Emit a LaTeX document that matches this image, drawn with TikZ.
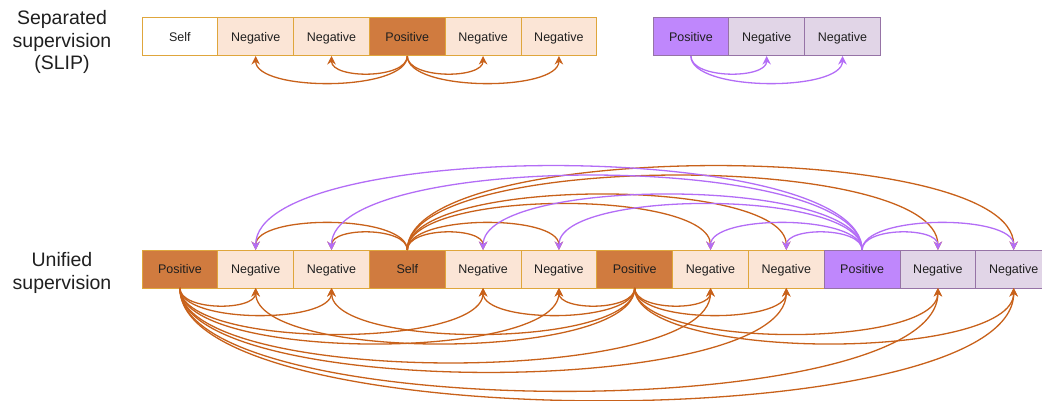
\documentclass[tikz,border=0pt]{standalone}
\usepackage{fontspec}
\setmainfont{Liberation Sans}
\usetikzlibrary{arrows.meta, positioning}

\definecolor{cellgold}{HTML}{DFA63C}
\definecolor{negfill}{HTML}{FBE5D6}
\definecolor{posfill}{HTML}{D07B3F}
\definecolor{vposfill}{HTML}{BF87FC}
\definecolor{vnegfill}{HTML}{E1D5E7}
\definecolor{vline}{HTML}{9673A6}
\definecolor{arcorange}{HTML}{C8611A}
\definecolor{arcviolet}{HTML}{B36DF6}

\begin{document}
\begin{tikzpicture}[
    x=1pt, y=1pt,
    node distance=0pt,
    cell/.style={
        rectangle, draw=cellgold, line width=1pt, fill=white,
        inner sep=0pt, outer sep=0pt, text height=8.9pt, text depth=0pt,
        minimum width=75.8pt, minimum height=38pt,
        font=\fontsize{12.5}{15}\selectfont, text=black!88
    },
    negcell/.style={cell, fill=negfill},
    poscell/.style={cell, fill=posfill},
    vposcell/.style={cell, draw=vline, fill=vposfill},
    vnegcell/.style={cell, draw=vline, fill=vnegfill},
    loopline/.style={line width=1.3pt, -{Stealth[length=8.5pt, width=8.5pt, inset=2.8pt]}},
    title/.style={align=center, font=\fontsize{19.5}{22.5}\selectfont, text=black!88}
]
    \useasboundingbox (0,0) rectangle (1042,400);
    % Labels
    \node (septitle) [title] at (62,358) {Separated\\supervision\\(SLIP)};
    \node (unititle) [title] at (62,127) {Unified\\supervision};
    % Nodes: separated
    \node (sep1) [cell] at (179.9,363) {Self};
    \node (sep2) [negcell, right=of sep1] {Negative};
    \node (sep3) [negcell, right=of sep2] {Negative};
    \node (sep4) [poscell, right=of sep3] {Positive};
    \node (sep5) [negcell, right=of sep4] {Negative};
    \node (sep6) [negcell, right=of sep5] {Negative};
    \node (sepv1) [vposcell] at (690.9,363) {Positive};
    \node (sepv2) [vnegcell, right=of sepv1] {Negative};
    \node (sepv3) [vnegcell, right=of sepv2] {Negative};
    % Nodes: unified
    \node (uni1) [poscell] at (179.9,131) {Positive};
    \node (uni2) [negcell, right=of uni1] {Negative};
    \node (uni3) [negcell, right=of uni2] {Negative};
    \node (uni4) [poscell, right=of uni3] {Self};
    \node (uni5) [negcell, right=of uni4] {Negative};
    \node (uni6) [negcell, right=of uni5] {Negative};
    \node (uni7) [poscell, right=of uni6] {Positive};
    \node (uni8) [negcell, right=of uni7] {Negative};
    \node (uni9) [negcell, right=of uni8] {Negative};
    \node (uni10) [vposcell, right=of uni9] {Positive};
    \node (uni11) [vnegcell, right=of uni10] {Negative};
    \node (uni12) [vnegcell, right=of uni11] {Negative};
    % Connections: separated
    \foreach \t in {2,3,5,6} {
        \pgfmathsetmacro\hh{10.67+12.63*abs(\t-4)}
        \draw [loopline, arcorange] (sep4.south) .. controls +(0,-\hh) and +(0,-\hh) .. (sep\t.south);
    }
    \foreach \t in {2,3} {
        \pgfmathsetmacro\hh{10.67+12.63*(\t-1)}
        \draw [loopline, arcviolet] (sepv1.south) .. controls +(0,-\hh) and +(0,-\hh) .. (sepv\t.south);
    }
    % Connections: unified
    \foreach \t in {2,3,5,6,8,9,11,12} {
        \pgfmathsetmacro\ha{10.67+12.63*abs(\t-1)}
        \pgfmathsetmacro\hb{10.67+12.63*abs(\t-7)}
        \pgfmathsetmacro\hc{10.67+12.63*abs(\t-4)}
        \draw [loopline, arcorange] (uni1.south) .. controls +(0,-\ha) and +(0,-\ha) .. (uni\t.south);
        \draw [loopline, arcorange] (uni7.south) .. controls +(0,-\hb) and +(0,-\hb) .. (uni\t.south);
        \draw [loopline, arcorange] (uni4.north) .. controls +(0,\hc) and +(0,\hc) .. (uni\t.north);
    }
    \foreach \t in {2,3,5,6,8,9,11,12} {
        \pgfmathsetmacro\hd{10.67+12.63*abs(\t-10)}
        \draw [loopline, arcviolet] (uni10.north) .. controls +(0,\hd) and +(0,\hd) .. (uni\t.north);
    }
\end{tikzpicture}
\end{document}
